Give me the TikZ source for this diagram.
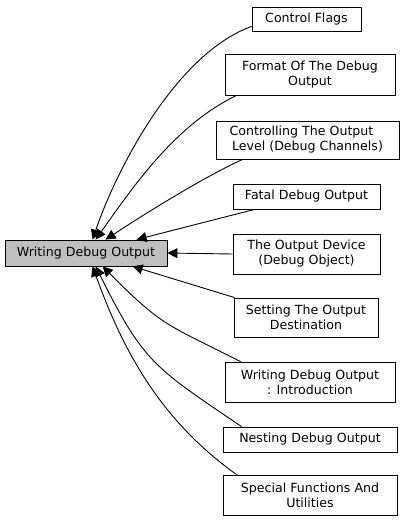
\documentclass[tikz,border=0pt]{standalone}
\usepackage{fontspec}
\setmainfont{DejaVu Sans}
\usetikzlibrary{arrows.meta}
\definecolor{maingray}{HTML}{BFBFBF}
\begin{document}
\begin{tikzpicture}[x=1pt,y=-1pt,
  box/.style={draw=black, line width=0.8pt, fill=white, align=center, inner sep=0pt,
    font=\fontsize{12.6pt}{15pt}\selectfont},
  mainbox/.style={box, fill=maingray},
  edge/.style={line width=0.9pt, -{Triangle[length=10pt,width=10pt]}}]
\useasboundingbox (0,0) rectangle (403,522);
\node[mainbox, minimum width=162pt, minimum height=26pt] (main) at (86,253) {Writing Debug Output};
\node[box, minimum width=109pt, minimum height=24pt] (cf) at (306.5,19) {Control Flags};
\node[box, minimum width=170pt, minimum height=41pt] (fmt) at (310,74.5) {Format Of The Debug\\Output};
\node[box, minimum width=183pt, minimum height=38pt] (ctrl) at (307.5,140) {Controlling The Output\hspace*{12pt}\\Level (Debug Channels)};
\node[box, minimum width=147pt, minimum height=25pt] (fatal) at (306.5,196.5) {Fatal Debug Output};
\node[box, minimum width=147pt, minimum height=40pt] (dev) at (306.5,254) {The Output Device\\(Debug Object)};
\node[box, minimum width=144pt, minimum height=39pt] (set) at (306,317.5) {Setting The Output\\Destination};
\node[box, minimum width=170pt, minimum height=40pt] (wi) at (310,382) {Writing Debug Output\\: Introduction};
\node[box, minimum width=174pt, minimum height=25pt] (nest) at (310,439.5) {Nesting Debug Output};
\node[box, minimum width=174pt, minimum height=40pt] (spec) at (310,495) {Special Functions And\\Utilities};

\draw[edge] ([yshift=5pt]cf.south west) .. controls (173,55) and (114,176) .. ([xshift=88pt]main.north west);
\draw[edge] ([xshift=12pt]fmt.south west) .. controls (175,125) and (133,187) .. ([xshift=91pt]main.north west);
\draw[edge] ([xshift=27pt]ctrl.south west) .. controls (202,178) and (143,215) .. ([xshift=101pt]main.north west);
\draw[edge] ([xshift=22pt]fatal.south west) -- ([xshift=132pt]main.north west);
\draw[edge] (dev.west) -- (main.east);
\draw[edge] ([xshift=1pt]set.north west) -- ([xshift=128pt]main.south west);
\draw[edge] ([xshift=16pt]wi.north west) .. controls (165.5,323.5) and (163,327) .. ([xshift=98pt]main.south west);
\draw[edge] ([xshift=19pt]nest.north west) .. controls (153.4,366.9) and (144,363) .. ([xshift=91pt]main.south west);
\draw[edge] ([xshift=14pt]spec.north west) .. controls (161.5,421) and (123.4,352.2) .. ([xshift=88pt]main.south west);
\end{tikzpicture}
\end{document}
